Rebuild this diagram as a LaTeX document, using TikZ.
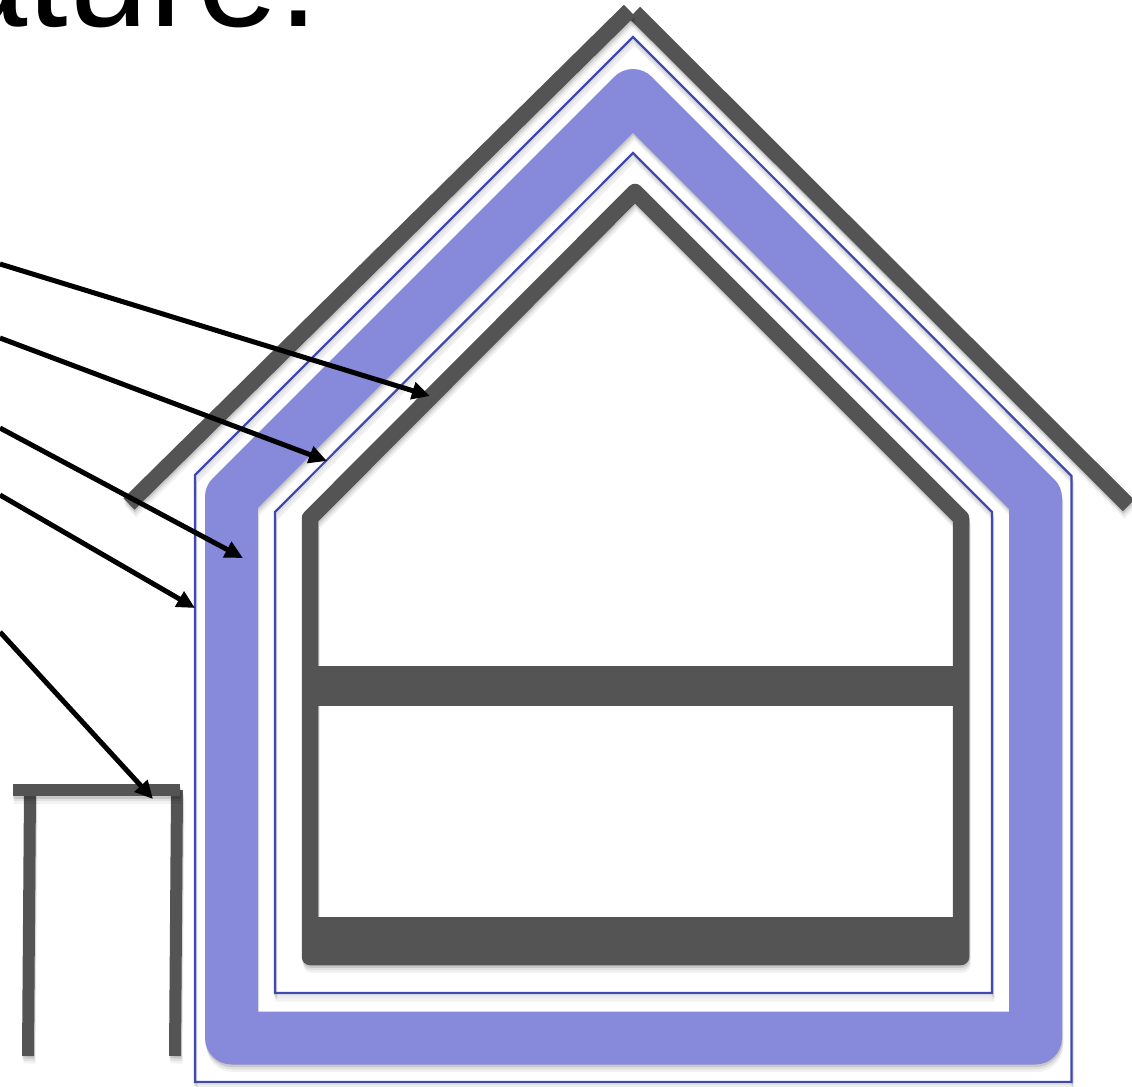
\documentclass[tikz,border=0pt]{standalone}
\usepackage{fontspec}
\setmainfont{Liberation Sans}
\usepackage{xcolor}
\usepackage{tikz}
\usetikzlibrary{arrows.meta}

\definecolor{wallgray}{HTML}{545454}
\definecolor{insulblue}{HTML}{8789DA}
\definecolor{wrapblue}{HTML}{3F49B0}

\tikzset{
  wall/.style={line width=0.33cm, line join=round},
  roofline/.style={line width=0.32cm},
  frameline/.style={line width=0.24cm},
  insulation/.style={line width=1.06cm, line join=round},
  wrapline/.style={line width=0.045cm, line join=miter},
  pointer/.style={draw=black, line width=0.1cm, ->}
}

% soft drop shadow under a stroked path: style, colour, path
\newcommand{\shadedpath}[3]{
  \draw[#1, black, draw opacity=0.05, xshift=0.03cm, yshift=-0.15cm] #3;
  \draw[#1, black, draw opacity=0.07, xshift=0.02cm, yshift=-0.10cm] #3;
  \draw[#1, black, draw opacity=0.11, xshift=0.01cm, yshift=-0.05cm] #3;
  \draw[#1, #2] #3;
}

\begin{document}
\begin{tikzpicture}[
  x=0.02cm, y=-0.02cm,
  >={Triangle[length=0.36cm,width=0.34cm]}
]

\useasboundingbox (0, 0) rectangle (1132, 1087);

% Cropped heading
\begin{scope}
  \clip (0, 0) rectangle (1132, 1087);
  \node[font=\fontsize{83}{83}\selectfont, anchor=base west, inner sep=0pt] (heading) at (-54, 27) {ature.};
\end{scope}

% ==================== Roof ====================
\shadedpath{roofline}{wallgray}{(634.5, 12.5) -- (1128.5, 505.5)}
\shadedpath{roofline}{wallgray}{(129, 504) -- (629.5, 10.5)}

% ==================== Outer wrap ====================
\shadedpath{wrapline}{wrapblue}{(633, 37) -- (1071.5, 476) -- (1071.5, 1082) -- (195, 1082) -- (195, 475) -- cycle}

% ==================== Insulation ====================
\shadedpath{insulation}{insulblue}{(633, 95.5) -- (1035.5, 498) -- (1035.5, 1038) -- (231.5, 1038) -- (231.5, 497) -- cycle}

% ==================== Inner wrap ====================
\shadedpath{wrapline}{wrapblue}{(633, 153) -- (992, 512) -- (992, 993) -- (275, 993) -- (275, 512) -- cycle}

% ==================== Inner wall and floors ====================
\shadedpath{wall}{wallgray}{(635, 192) -- (961, 518) -- (961, 957) -- (310, 957) -- (310, 518) -- cycle}
\fill[wallgray] (305, 666) rectangle (962, 706);
\fill[wallgray] (310, 917) rectangle (961, 957);

% ==================== Small frame ====================
\shadedpath{frameline}{wallgray}{(30, 790) -- (28, 1056)}
\shadedpath{frameline}{wallgray}{(177, 790) -- (175, 1056)}
\shadedpath{frameline}{wallgray}{(13, 790) -- (180, 790)}

% ==================== Pointers ====================
\coordinate (startA) at (0, 264);
\coordinate (startB) at (0, 338);
\coordinate (startC) at (0, 428);
\coordinate (startD) at (0, 495);
\coordinate (startE) at (0, 632);
\coordinate (innerwall) at (430, 396);
\coordinate (innerwrap) at (327, 461);
\coordinate (insul) at (243, 558);
\coordinate (outerwrap) at (195, 608);
\coordinate (frame) at (153, 799);

\draw[pointer] (startA) -- (innerwall);
\draw[pointer] (startB) -- (innerwrap);
\draw[pointer] (startC) -- (insul);
\draw[pointer] (startD) -- (outerwrap);
\draw[pointer] (startE) -- (frame);

\end{tikzpicture}
\end{document}
